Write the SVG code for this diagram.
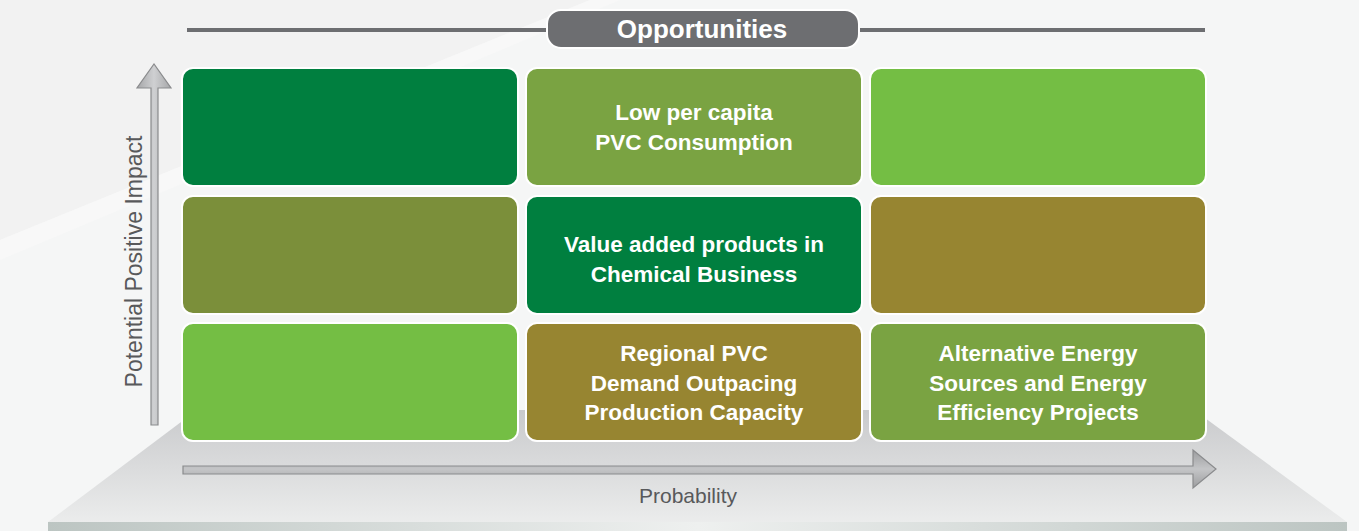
<svg xmlns="http://www.w3.org/2000/svg" width="1359" height="531" viewBox="0 0 1359 531">
<defs>
<linearGradient id="plat" x1="0" y1="0" x2="0" y2="1">
<stop offset="0" stop-color="#c9cacc"/>
<stop offset="1" stop-color="#ebecec"/>
</linearGradient>
<linearGradient id="band" x1="0" y1="0" x2="1" y2="0">
<stop offset="0" stop-color="#bcc5c2"/>
<stop offset="0.5" stop-color="#eef0ef"/>
<stop offset="1" stop-color="#bcc5c2"/>
</linearGradient>
<linearGradient id="arrH" x1="0" y1="0" x2="0" y2="1">
<stop offset="0" stop-color="#9c9d9f"/>
<stop offset="0.5" stop-color="#c4c5c7"/>
<stop offset="1" stop-color="#9c9d9f"/>
</linearGradient>
<linearGradient id="arrV" x1="0" y1="0" x2="1" y2="0">
<stop offset="0" stop-color="#a5a6a8"/>
<stop offset="0.5" stop-color="#cfd0d2"/>
<stop offset="1" stop-color="#a5a6a8"/>
</linearGradient>
</defs>
<style>
.box{stroke:#ffffff;stroke-width:2}
.lbl{font-family:"Liberation Sans",Arial,sans-serif;font-weight:bold;font-size:22.5px;fill:#ffffff;text-anchor:middle}
.axis{font-family:"Liberation Sans",Arial,sans-serif;fill:#58595b;text-anchor:middle}
.arrow{stroke:#8a8b8d;stroke-width:1.2}
</style>
<rect x="0" y="0" width="1359" height="531" fill="#f5f6f6"/>
<polygon points="0,0 590,0 0,240" fill="#f2f2f2"/>
<polygon points="590,0 620,0 0,260 0,240" fill="#f8f8f8"/>
<g id="platform">
<polygon points="197,410 1194,410 1347,522 48,522" fill="url(#plat)"/>
<rect x="48" y="522" width="1299" height="9" fill="url(#band)"/>
</g>
<g id="title">
<line x1="187" y1="30" x2="548" y2="30" stroke="#6d6e71" stroke-width="4"/>
<line x1="858" y1="30" x2="1205" y2="30" stroke="#6d6e71" stroke-width="4"/>
<rect x="547" y="10" width="312" height="38" rx="14" fill="#6d6e71" stroke="#ffffff" stroke-width="2"/>
<text x="702" y="38" font-family="'Liberation Sans',Arial,sans-serif" font-weight="bold" font-size="26" fill="#ffffff" text-anchor="middle">Opportunities</text>
</g>
<g id="connectors">
<polygon class="arrow" points="151,425 158,425 158,88 171,88 154,64 137,88 151,88" fill="url(#arrV)"/>
<polygon class="arrow" points="183,466 1193,466 1193,450 1216,469 1193,488 1193,474 183,474" fill="url(#arrH)"/>
</g>
<text class="axis" font-size="23" transform="translate(142,261.5) rotate(-90)">Potential Positive Impact</text>
<text class="axis" font-size="21" x="688" y="503">Probability</text>
<g id="r1c1"><rect class="box" x="182" y="68" width="336" height="118" rx="11" fill="#007f3f"/></g>
<g id="r1c2"><rect class="box" x="526" y="68" width="336" height="118" rx="11" fill="#7aa342"/>
<text class="lbl" x="694" y="120">Low per capita</text>
<text class="lbl" x="694" y="150">PVC Consumption</text></g>
<g id="r1c3"><rect class="box" x="870" y="68" width="336" height="118" rx="11" fill="#74be44"/></g>
<g id="r2c1"><rect class="box" x="182" y="196" width="336" height="118" rx="11" fill="#7b8f3a"/></g>
<g id="r2c2"><rect class="box" x="526" y="196" width="336" height="118" rx="11" fill="#007f3f"/>
<text class="lbl" x="694" y="252">Value added products in</text>
<text class="lbl" x="694" y="282">Chemical Business</text></g>
<g id="r2c3"><rect class="box" x="870" y="196" width="336" height="118" rx="11" fill="#978531"/></g>
<g id="r3c1"><rect class="box" x="182" y="323" width="336" height="118" rx="11" fill="#74be44"/></g>
<g id="r3c2"><rect class="box" x="526" y="323" width="336" height="118" rx="11" fill="#978531"/>
<text class="lbl" x="694" y="361">Regional PVC</text>
<text class="lbl" x="694" y="391">Demand Outpacing</text>
<text class="lbl" x="694" y="420">Production Capacity</text></g>
<g id="r3c3"><rect class="box" x="870" y="323" width="336" height="118" rx="11" fill="#7aa342"/>
<text class="lbl" x="1038" y="361">Alternative Energy</text>
<text class="lbl" x="1038" y="391">Sources and Energy</text>
<text class="lbl" x="1038" y="420">Efficiency Projects</text></g>
</svg>
